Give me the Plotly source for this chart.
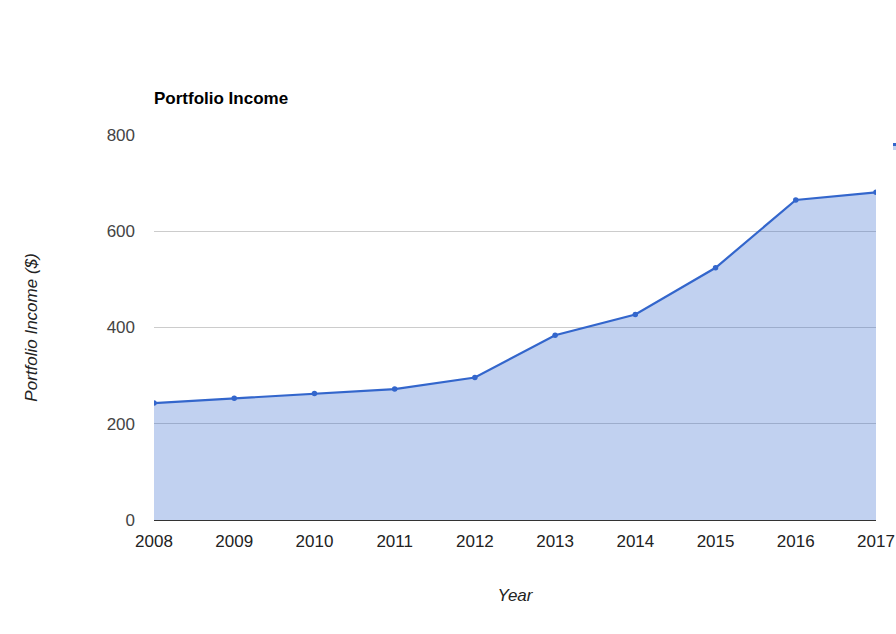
import plotly.graph_objects as go

# 年ごとのポートフォリオ収入
years = [2008, 2009, 2010, 2011, 2012, 2013, 2014, 2015, 2016, 2017]
income = [243, 253, 263, 272, 296, 384, 427, 524, 665, 681]

y_ticks = [0, 200, 400, 600, 800]

line_color = "#3366cc"
font_family = "Arial, Liberation Sans, sans-serif"

fig = go.Figure()
fig.add_trace(go.Scatter(
    x=years, y=income,
    mode="lines+markers",
    fill="tozeroy",
    fillcolor="rgba(51,102,204,0.3)",
    line=dict(color=line_color, width=2.2),
    marker=dict(color=line_color, size=5.5),
    name="Portfolio Income",
    showlegend=False,
))

fig.update_layout(
    width=896, height=634,
    margin=dict(l=154, r=20, t=135, b=114),
    paper_bgcolor="white", plot_bgcolor="white",
    font=dict(family=font_family, size=17, color="#444444"),
    title=dict(
        text="<b>Portfolio Income</b>",
        font=dict(family=font_family, size=17, color="black"),
        xref="container", yref="container",
        x=154 / 896, xanchor="left",
        y=1 - 98 / 634, yanchor="middle",
    ),
    xaxis=dict(
        range=[2008, 2017],
        tickvals=years,
        showgrid=False,
        zeroline=False,
        showline=False,
        ticks="",
        automargin=False,
        ticklabelstandoff=9,
        tickfont=dict(size=17, color="#222222"),
        title=dict(text="Year", standoff=39,
                   font=dict(size=17, color="#222222", style="italic")),
    ),
    yaxis=dict(
        range=[0, 800],
        tickvals=y_ticks,
        showgrid=True, gridcolor="#cccccc", gridwidth=1,
        zeroline=True, zerolinecolor="#333333", zerolinewidth=1,
        showline=False,
        ticks="",
        automargin=False,
        ticklabelstandoff=18,
        tickfont=dict(size=17, color="#444444"),
        title=dict(text="Portfolio Income ($)", standoff=64,
                   font=dict(size=17, color="#222222", style="italic")),
    ),
    shapes=[
        # 右端で切れている凡例の断片
        dict(type="rect", xref="paper", yref="paper",
             x0=(893 - 154) / 722, x1=(897 - 154) / 722,
             y0=(520 - 150) / 385, y1=(520 - 143) / 385,
             fillcolor="rgba(51,102,204,0.3)", line=dict(width=0)),
        dict(type="rect", xref="paper", yref="paper",
             x0=(893 - 154) / 722, x1=(897 - 154) / 722,
             y0=(520 - 146) / 385, y1=(520 - 143) / 385,
             fillcolor=line_color, line=dict(width=0)),
    ],
)

# ページの余白を消す
fig.write_html("out.html", config={"displayModeBar": False},
               post_script="document.body.style.margin='0';")
